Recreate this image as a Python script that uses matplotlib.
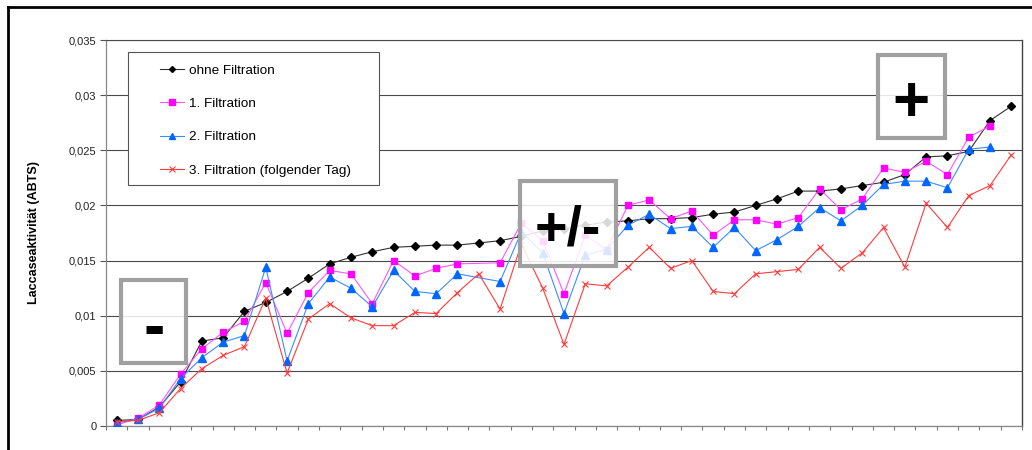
import numpy as np
import matplotlib
matplotlib.use("Agg")
import matplotlib.pyplot as plt
from matplotlib.patches import Rectangle
from matplotlib.lines import Line2D
from matplotlib.ticker import FuncFormatter, MultipleLocator

plt.rcParams['font.family'] = ['Liberation Sans', 'DejaVu Sans']

# Laccase activity per sample (sorted), nan = no value
ohne = [0.0005, 0.0006, 0.0017, 0.0040, 0.0077, 0.0080, 0.0104, 0.0112, 0.0122, 0.0134,
        0.0147, 0.0153, 0.0158, 0.0162, 0.0163, 0.0164, 0.0164, 0.0166, 0.0168, 0.0172,
        0.0177, 0.0179, 0.0182, 0.0185, 0.0186, 0.0188, 0.0188, 0.0189, 0.0192, 0.0194,
        0.0200, 0.0206, 0.0213, 0.0213, 0.0215, 0.0218, 0.0221, 0.0228, 0.0244, 0.0245,
        0.0249, 0.0277, 0.0290]
filt1 = [0.0001, 0.0007, 0.0019, 0.0047, 0.0070, 0.0085, 0.0095, 0.0130, 0.0084, 0.0121,
         0.0141, 0.0138, 0.0111, 0.0150, 0.0136, 0.0143, 0.0147, np.nan, 0.0148, 0.0184,
         0.0168, 0.0120, 0.0173, 0.0160, 0.0200, 0.0205, 0.0188, 0.0195, 0.0173, 0.0187,
         0.0187, 0.0183, 0.0189, 0.0215, 0.0196, 0.0206, 0.0234, 0.0230, 0.0240, 0.0228,
         0.0262, 0.0272, np.nan]
filt2 = [0.0003, 0.0006, 0.0016, 0.0043, 0.0062, 0.0076, 0.0082, 0.0144, 0.0059, 0.0111,
         0.0135, 0.0125, 0.0108, 0.0141, 0.0122, 0.0120, 0.0138, np.nan, 0.0131, 0.0176,
         0.0157, 0.0102, 0.0155, 0.0160, 0.0182, 0.0192, 0.0179, 0.0181, 0.0162, 0.0180,
         0.0159, 0.0169, 0.0181, 0.0198, 0.0186, 0.0200, 0.0219, 0.0222, 0.0222, 0.0216,
         0.0251, 0.0253, np.nan]
filt3 = [0.0004, 0.0005, 0.0012, 0.0034, 0.0052, 0.0064, 0.0072, 0.0116, 0.0048, 0.0097,
         0.0111, 0.0098, 0.0091, 0.0091, 0.0103, 0.0102, 0.0121, 0.0138, 0.0106, 0.0165,
         0.0125, 0.0074, 0.0129, 0.0127, 0.0144, 0.0162, 0.0143, 0.0150, 0.0122, 0.0120,
         0.0138, 0.0140, 0.0142, 0.0162, 0.0143, 0.0157, 0.0180, 0.0144, 0.0202, 0.0180,
         0.0209, 0.0218, 0.0246]

labels = ["ohne Filtration", "1. Filtration", "2. Filtration", "3. Filtration (folgender Tag)"]

fig = plt.figure(figsize=(10.32, 4.5), dpi=100)
ax = fig.add_axes([106 / 1032, 24 / 450, 916 / 1032, 386 / 450])

x = np.arange(len(ohne))

def draw(vals, **kw):
    v = np.array(vals, dtype=float)
    m = ~np.isnan(v)
    return ax.plot(x[m], v[m], zorder=3, **kw)[0]

h0 = draw(ohne, color='#333333', lw=0.8, marker='D', ms=4, mfc='black', mec='black')
h1 = draw(filt1, color='#ff55ff', lw=0.8, marker='s', ms=5, mfc='#ff00ff', mec='#ff00ff')
h2 = draw(filt2, color='#3d8bff', lw=0.8, marker='^', ms=5.5, mfc='#0066ff', mec='#0066ff')
h3 = draw(filt3, color='#ff3b3b', lw=0.8, marker='x', ms=5, mew=0.8, mec='#ff3b3b')

ax.set_xlim(-0.5, len(ohne) - 0.5)
ax.set_ylim(0, 0.035)
ax.yaxis.set_major_locator(MultipleLocator(0.005))
ax.yaxis.set_major_formatter(FuncFormatter(lambda v, p: "0" if abs(v) < 1e-9 else ("%g" % round(v, 3)).replace(".", ",")))
ax.set_xticks(np.arange(-0.5, len(ohne), 1.0))
ax.set_xticklabels([])
ax.tick_params(axis='x', direction='out', length=3, color='#777777', width=0.8)
ax.tick_params(axis='y', direction='out', length=4, color='#555555', width=0.8, labelsize=8, labelcolor='#222222', pad=3)
ax.grid(axis='y', color='#4a4a4a', lw=0.8, zorder=1)
ax.set_axisbelow(True)
for s in ['left', 'bottom']:
    ax.spines[s].set_color('#888888')
    ax.spines[s].set_linewidth(0.9)
ax.spines['top'].set_color('#4a4a4a')
ax.spines['top'].set_linewidth(0.8)
ax.spines['right'].set_color('#444444')
ax.spines['right'].set_linewidth(1.0)

ax.set_ylabel("Laccaseaktivität (ABTS)", fontsize=9, fontweight='bold')
ax.yaxis.set_label_coords(-(106 - 40) / 916, 0.5)

# legend box
ax.add_patch(Rectangle((0.024, 0.6244), 0.274, 0.3446, transform=ax.transAxes,
                       facecolor='white', edgecolor='#555555', lw=0.8, zorder=4))
leg = ax.legend([h0, h1, h2, h3], labels, loc='upper left', bbox_to_anchor=(0.059, 0.937),
                frameon=False, borderpad=0, borderaxespad=0, handlelength=1.75,
                handletextpad=0.4, labelspacing=1.55, fontsize=9.7, markerscale=0.75,
                numpoints=1)
leg.set_zorder(5)

# annotation boxes
def note(x0, y0, x1, y1, txt, size, dy):
    ax.add_patch(Rectangle((x0, y0), x1 - x0, y1 - y0, transform=ax.transAxes,
                           facecolor=(1, 1, 1, 0.85), edgecolor='#a0a0a0', lw=3, zorder=6))
    ax.text((x0 + x1) / 2, (y0 + y1) / 2 - dy / 386, txt, transform=ax.transAxes, ha='center',
            va='center', fontsize=size, fontweight='bold', zorder=7)

note(0.0165, 0.164, 0.0875, 0.378, "-", 46, 9)
note(0.4525, 0.415, 0.5565, 0.634, "+/-", 40, 7)
note(0.8425, 0.747, 0.9155, 0.962, "+", 46, 8)

# outer frame (cut at right and bottom)
fig.add_artist(Line2D([8 / 1032, 8 / 1032], [0, 1 - 7 / 450], color='black', lw=2, transform=fig.transFigure))
fig.add_artist(Line2D([8 / 1032, 1], [1 - 7 / 450, 1 - 7 / 450], color='black', lw=2, transform=fig.transFigure))

fig.savefig("out.png", dpi=100)
